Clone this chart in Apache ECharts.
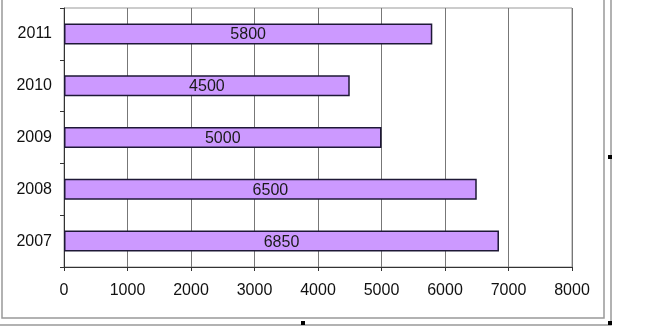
<!DOCTYPE html>
<html><head><meta charset="utf-8">
<script src="https://cdn.jsdelivr.net/npm/echarts@6/dist/echarts.min.js"></script>
<style>html,body{margin:0;padding:0;background:#fff}#c{width:650px;height:333px}</style>
</head><body><div id="c"></div>
<script>
const categories = ['2007', '2008', '2009', '2010', '2011'];
const values = [6850, 6500, 5000, 4500, 5800];
const xTicks = [0, 1000, 2000, 3000, 4000, 5000, 6000, 7000, 8000];

const chart = echarts.init(document.getElementById('c'), null, {renderer: 'canvas'});
const font = 'Liberation Sans, Arial, sans-serif';
chart.setOption({
  animation: false,
  backgroundColor: '#fff',
  grid: {left: 64, right: 78, top: 8, bottom: 66, show: true, borderColor: '#999', borderWidth: 1, containLabel: false},
  xAxis: {
    type: 'value', min: xTicks[0], max: xTicks[xTicks.length - 1], interval: 1000,
    axisLine: {show: true, lineStyle: {color: '#333', width: 1}},
    axisTick: {show: true, length: 4, lineStyle: {color: '#333'}},
    axisLabel: {color: '#111', fontFamily: font, fontSize: 16, margin: 16, formatter: v => String(v)},
    splitLine: {show: true, lineStyle: {color: '#777', width: 1}}
  },
  yAxis: {
    type: 'category', data: categories,
    axisLine: {show: true, lineStyle: {color: '#333', width: 1}},
    axisTick: {show: true, length: 4, lineStyle: {color: '#333'}},
    axisLabel: {color: '#111', fontFamily: font, fontSize: 16, margin: 12},
    splitLine: {show: false}
  },
  series: [{
    type: 'bar', data: values, barWidth: 21,
    itemStyle: {color: '#cc99ff', borderColor: '#1e1836', borderWidth: 1.5},
    label: {show: true, position: 'inside', offset: [0, 1], color: '#1a1a1a', fontFamily: font, fontSize: 16}
  }],
  graphic: [
    {type: 'polyline', shape: {points: [[2, -5], [2, 318], [604, 318], [604, -5]]}, style: {stroke: '#999', lineWidth: 1.5, fill: null}, silent: true},
    {type: 'polyline', shape: {points: [[-5, 325], [611, 325], [611, -5]]}, style: {stroke: '#999', lineWidth: 1.5, fill: null}, silent: true},
    {type: 'rect', shape: {x: 608, y: 155, width: 4, height: 4}, style: {fill: '#000'}, silent: true},
    {type: 'rect', shape: {x: 301, y: 321, width: 4, height: 4}, style: {fill: '#000'}, silent: true},
    {type: 'rect', shape: {x: 608, y: 321, width: 4, height: 4}, style: {fill: '#000'}, silent: true}
  ]
});
</script></body></html>
